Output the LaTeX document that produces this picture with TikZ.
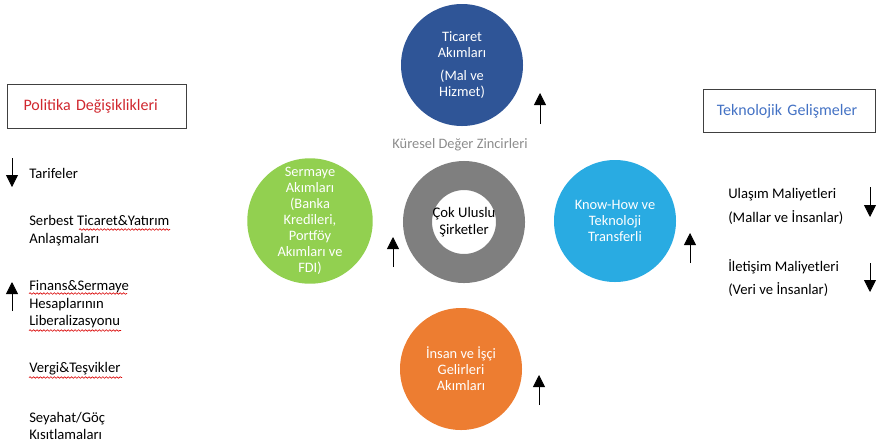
\documentclass[tikz,border=0pt]{standalone}
\usepackage{fontspec}
\setmainfont{Carlito}
\usetikzlibrary{arrows.meta,decorations.pathmorphing}

\definecolor{tradeblue}{HTML}{2F5597}
\definecolor{capitalgreen}{HTML}{92D050}
\definecolor{techcyan}{HTML}{29ABE2}
\definecolor{incomeorange}{HTML}{ED7D31}
\definecolor{ringgray}{HTML}{7F7F7F}
\definecolor{chaingray}{HTML}{8C8C8C}
\definecolor{policyred}{HTML}{D0272E}
\definecolor{techblue}{HTML}{4472C4}
\definecolor{boxline}{HTML}{404040}

\tikzset{
	flow/.style={circle, inner sep=0pt, minimum size=91.5pt, text=white, align=center, font=\fontsize{10.8}{12}\selectfont},
	sidetext/.style={anchor=west, align=left, inner sep=0pt, font=\fontsize{11}{13.2}\selectfont},
	headbox/.style={draw=boxline, line width=0.75pt, anchor=north west, inner xsep=10pt, align=left, font=\fontsize{12}{14}\selectfont},
	trend/.style={line width=0.6pt, -{Triangle[width=9pt,length=9pt]}},
	squiggle/.style={draw=red!85!black, line width=0.45pt, decorate, decoration={snake, amplitude=0.6pt, segment length=2.6pt}}
}

\begin{document}
\begin{tikzpicture}[x=0.75pt, y=-0.75pt]
		%%%%% START %%%%%
		\useasboundingbox (0, 0) rectangle (877, 444);
		
		% left column: policy changes
		\node[headbox, text=policyred, text width=114.25pt, minimum height=33pt, inner xsep=10pt] (politika) at (7, 84) {\hspace*{2pt}Politika Değişiklikleri};
		\node[sidetext] (tarife) at (29, 173) {Tarifeler};
		\node[sidetext] (serbest) at (29, 230.5) {Serbest Ticaret\&Yatırım\\Anlaşmaları};
		\node[sidetext] (finans) at (29, 304.5) {Finans\&Sermaye\\Hesaplarının\\Liberalizasyonu};
		\node[sidetext] (vergi) at (29, 369) {Vergi\&Teşvikler};
		\node[sidetext] (seyahat) at (29, 426) {Seyahat/Göç\\Kısıtlamaları};
		
		\draw[trend] (12, 158) -- (12, 187);
		\draw[trend] (12, 311) -- (12, 282);
		
		% spelling marks
		\draw[squiggle] (79, 229.5) -- (170, 229.5);
		\draw[squiggle] (29, 293.5) -- (127, 293.5);
		\draw[squiggle] (29, 330.5) -- (121, 330.5);
		\draw[squiggle] (29, 377.5) -- (122, 377.5);
		
		% the flows around the firms
		\node[flow, fill=tradeblue] (ticaret) at (462, 65) {Ticaret\\Akımları\\[5pt](Mal ve\\Hizmet)};
		\node[font=\fontsize{10.8}{12}\selectfont, text=chaingray] (zincir) at (460, 145) {Küresel Değer Zincirleri};
		\node[flow, fill=capitalgreen] (sermaye) at (310, 221) {Sermaye\\Akımları\\(Banka\\Kredileri,\\Portföy\\Akımları ve\\FDI)};
		\node[circle, draw=ringgray, line width=21.75pt, minimum size=69.75pt, inner sep=0pt, align=center, font=\fontsize{11}{13}\selectfont] (cokuluslu) at (464, 222) {Çok Uluslu\\Şirketler};
		\node[flow, fill=techcyan] (knowhow) at (615, 221) {Know-How ve\\Teknoloji\\Transferli};
		\node[flow, fill=incomeorange] (insan) at (461, 369) {İnsan ve İşçi\\Gelirleri\\Akımları};
		
		\draw[trend] (540, 124) -- (540, 93);
		\draw[trend] (393, 267) -- (393, 237);
		\draw[trend] (690, 263) -- (690, 233);
		\draw[trend] (539, 405) -- (539, 375);
		
		% right column: technological developments
		\node[headbox, text=techblue, text width=109pt, minimum height=32.25pt] (teknoloji) at (703, 89) {Teknolojik Gelişmeler};
		\node[sidetext] (ulasim) at (728, 195) {Ulaşım Maliyetleri};
		\node[sidetext] (ulasim2) at (728, 218) {(Mallar ve İnsanlar)};
		\node[sidetext] (iletisim) at (728, 267) {İletişim Maliyetleri};
		\node[sidetext] (iletisim2) at (728, 290) {(Veri ve İnsanlar)};
		
		\draw[trend] (870, 187) -- (870, 217);
		\draw[trend] (870, 263) -- (870, 292);
		
		%%%%% END %%%%%
	\end{tikzpicture}
\end{document}
